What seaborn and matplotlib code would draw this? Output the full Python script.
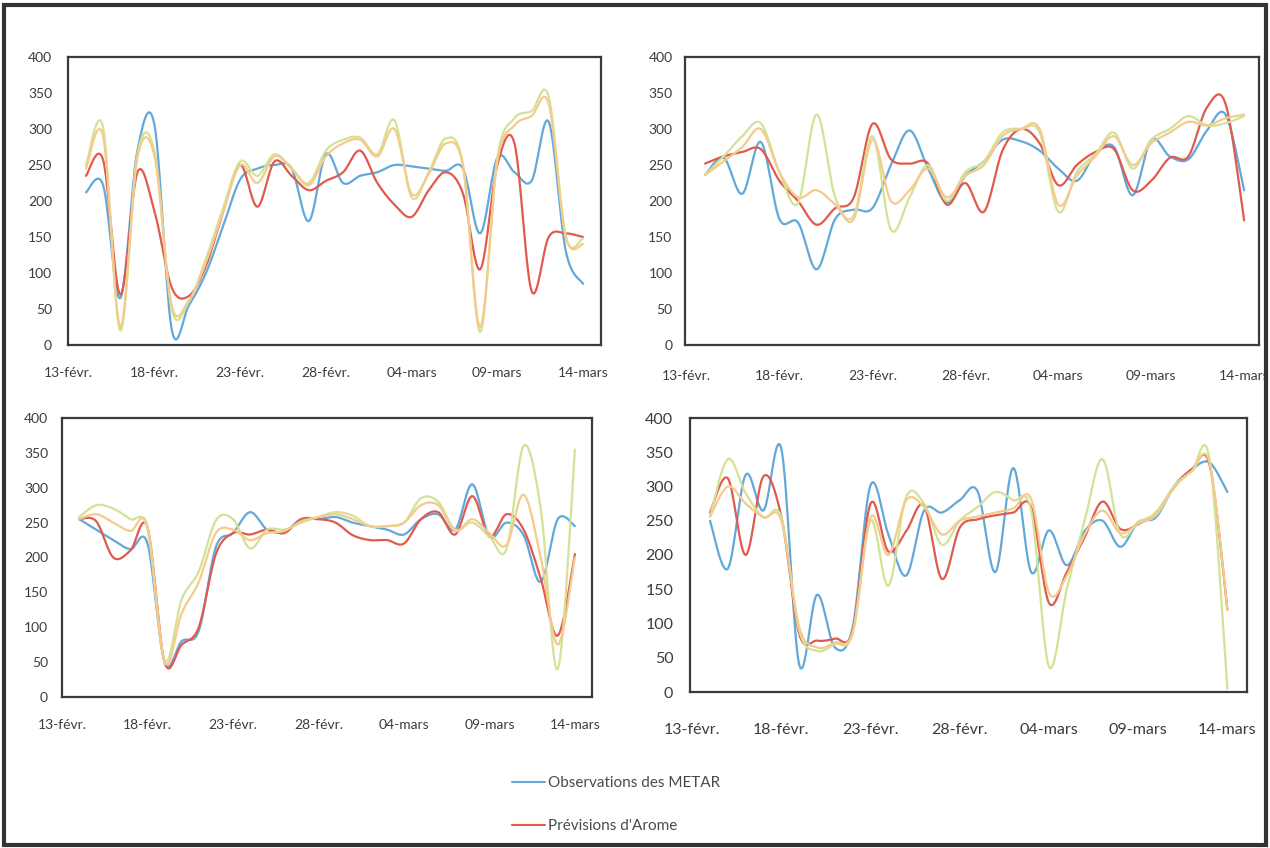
import numpy as np
import pandas as pd
import matplotlib
matplotlib.use("Agg")
import matplotlib.pyplot as plt
import seaborn as sns
from matplotlib.lines import Line2D
from matplotlib.patches import Rectangle

# ---------------- data ----------------
dates = pd.date_range("2020-02-14", "2020-03-14", freq="D")
tick_dates = pd.date_range("2020-02-13", "2020-03-14", freq="5D")
tick_labels = ["13-févr.", "18-févr.", "23-févr.", "28-févr.", "04-mars", "09-mars", "14-mars"]
series_names = ["Observations des METAR", "Prévisions d'Arome", "Série 3", "Série 4"]

p1_metar = [212, 222, 65, 270, 305, 22, 55, 100, 165, 230, 245, 250, 245, 172, 265,
            225, 235, 240, 250, 248, 245, 242, 245, 155, 260, 240, 228, 310, 130, 85]
p1_arome = [235, 257, 70, 240, 185, 80, 68, 110, 185, 250, 192, 255, 235, 215, 228,
            240, 270, 225, 195, 178, 215, 240, 210, 105, 250, 280, 75, 150, 155, 150]
p1_s3 = [250, 302, 20, 265, 268, 50, 60, 120, 190, 255, 235, 265, 245, 225, 270,
         285, 288, 265, 312, 205, 240, 287, 250, 18, 260, 315, 325, 345, 150, 148]
p1_s4 = [245, 290, 25, 260, 262, 55, 62, 115, 185, 250, 225, 262, 245, 222, 262,
         280, 285, 262, 300, 210, 238, 280, 248, 25, 255, 305, 318, 335, 150, 140]

p2_metar = [236, 260, 210, 282, 175, 170, 105, 175, 188, 190, 250, 298, 245, 198, 235,
            255, 285, 283, 270, 245, 228, 265, 275, 208, 285, 262, 258, 298, 320, 215]
p2_arome = [252, 262, 268, 272, 228, 200, 167, 190, 205, 307, 258, 252, 252, 195, 225,
            185, 270, 300, 280, 222, 250, 268, 272, 215, 228, 260, 262, 330, 335, 173]
p2_s3 = [236, 262, 290, 308, 240, 197, 320, 205, 180, 290, 160, 205, 250, 200, 240,
         255, 295, 300, 295, 185, 240, 265, 295, 245, 285, 300, 318, 305, 308, 318]
p2_s4 = [236, 255, 275, 300, 240, 205, 215, 195, 175, 285, 200, 215, 245, 205, 235,
         250, 290, 300, 300, 195, 235, 262, 290, 250, 280, 295, 310, 305, 315, 320]

p3_metar = [255, 240, 225, 212, 220, 50, 80, 95, 215, 235, 265, 240, 237, 255, 255,
            258, 250, 245, 240, 233, 255, 262, 240, 305, 230, 250, 232, 165, 255, 245]
p3_arome = [255, 252, 200, 210, 243, 50, 75, 100, 205, 235, 233, 240, 235, 255, 255,
            250, 232, 225, 225, 220, 255, 265, 233, 288, 230, 262, 240, 170, 88, 205]
p3_s3 = [258, 275, 270, 255, 240, 53, 140, 180, 253, 255, 213, 240, 240, 250, 258,
         265, 260, 245, 245, 250, 285, 280, 240, 250, 230, 212, 360, 270, 40, 355]
p3_s4 = [255, 262, 250, 238, 245, 50, 120, 165, 235, 240, 225, 235, 238, 252, 258,
         262, 255, 245, 245, 250, 275, 275, 238, 255, 235, 218, 290, 200, 75, 200]

p4_metar = [250, 180, 317, 265, 355, 40, 142, 65, 95, 302, 230, 170, 265, 262, 280,
            293, 175, 327, 175, 236, 185, 235, 250, 212, 248, 255, 300, 325, 335, 292]
p4_arome = [262, 312, 200, 315, 256, 85, 75, 78, 90, 275, 205, 235, 272, 165, 240,
            252, 258, 262, 270, 130, 175, 226, 278, 238, 245, 262, 298, 325, 332, 120]
p4_s3 = [256, 340, 290, 255, 255, 90, 60, 70, 85, 250, 155, 285, 275, 215, 250,
         270, 292, 280, 265, 37, 150, 250, 340, 230, 248, 262, 300, 322, 340, 5]
p4_s4 = [256, 300, 275, 255, 250, 95, 65, 72, 88, 255, 200, 280, 270, 230, 250,
         256, 262, 268, 282, 145, 170, 230, 265, 232, 246, 258, 298, 322, 335, 120]

colors = ["#62a8da", "#e05a4e", "#d3e295", "#f4cb8c"]

# ---------------- helpers ----------------
origin = pd.Timestamp("2020-02-13")
xd = np.array([(d - origin).days for d in dates], dtype=float)
xt = np.array([(d - origin).days for d in tick_dates], dtype=float)


def smooth(x, y, n=16):
    """Excel-style smoothed line (cubic Bezier through points) for rendering."""
    P = np.column_stack([np.asarray(x, float), np.asarray(y, float)])
    Pe = np.vstack([P[0], P, P[-1]])
    t = np.linspace(0, 1, n, endpoint=False)[:, None]
    out = []
    for i in range(len(P) - 1):
        p0, p1, p2, p3 = Pe[i], Pe[i + 1], Pe[i + 2], Pe[i + 3]
        c1 = p1 + (p2 - p0) / 6.0
        c2 = p2 - (p3 - p1) / 6.0
        b = (1 - t) ** 3 * p1 + 3 * (1 - t) ** 2 * t * c1 + 3 * (1 - t) * t ** 2 * c2 + t ** 3 * p2
        out.append(b)
    out.append(P[-1:])
    return np.vstack(out)


sns.set_theme(style="white")
plt.rcParams["font.family"] = ["Lato", "DejaVu Sans"]

fig = plt.figure(figsize=(12.7, 8.48), dpi=100)
fig.patch.set_facecolor("white")

W, H = 1270.0, 848.0
panels = [
    # left, right, top, bottom (px), xlim, fontsize, ypad, xpad, data
    (68, 601, 57, 345, (-0.05, 31.05), 10, 11.5, 16, [p1_metar, p1_arome, p1_s3, p1_s4]),
    (685, 1259, 57, 345, (-0.08, 30.8), 10, 9, 18, [p2_metar, p2_arome, p2_s3, p2_s4]),
    (62, 592, 418, 697, (0.07, 31.0), 10, 10, 16, [p3_metar, p3_arome, p3_s3, p3_s4]),
    (690, 1247, 418, 692, (-0.12, 31.1), 11.5, 12, 22, [p4_metar, p4_arome, p4_s3, p4_s4]),
]

for (l, r, t, b, xlim, fs, ypad, xpad, data) in panels:
    ax = fig.add_axes([l / W, (H - b) / H, (r - l) / W, (b - t) / H])
    ax.set_facecolor("white")
    for vals, c in zip(data, colors):
        pts = smooth(xd, vals)
        sns.lineplot(x=pts[:, 0], y=pts[:, 1], ax=ax, color=c, lw=1.6,
                     sort=False, estimator=None, legend=False)
    ax.set_xlim(*xlim)
    ax.set_ylim(0, 400)
    ax.set_yticks(np.arange(0, 401, 50))
    ax.set_xticks(xt)
    ax.set_xticklabels(tick_labels)
    ax.set_xlabel("")
    ax.set_ylabel("")
    ax.tick_params(axis="y", length=0, pad=ypad, labelsize=fs, labelcolor="#3c3c3c")
    ax.tick_params(axis="x", length=0, pad=xpad, labelsize=fs, labelcolor="#3c3c3c")
    for sp in ax.spines.values():
        sp.set_visible(True)
        sp.set_color("#3a3a3a")
        sp.set_linewidth(1.6)

handles = [Line2D([0], [0], color=colors[0], lw=1.5),
           Line2D([0], [0], color=colors[1], lw=1.5)]
fig.legend(handles, series_names[:2], loc="upper left", bbox_to_anchor=(0.397, 0.094),
           frameon=False, borderpad=0, handlelength=2.2, handletextpad=0.15,
           labelspacing=1.9, fontsize=11, labelcolor="#4a4a4a")

fig.add_artist(Rectangle((0.003, 0.004), 0.994, 0.99, transform=fig.transFigure,
                         fill=False, edgecolor="#333333", lw=3))

fig.savefig("out.png", dpi=100, facecolor="white")
